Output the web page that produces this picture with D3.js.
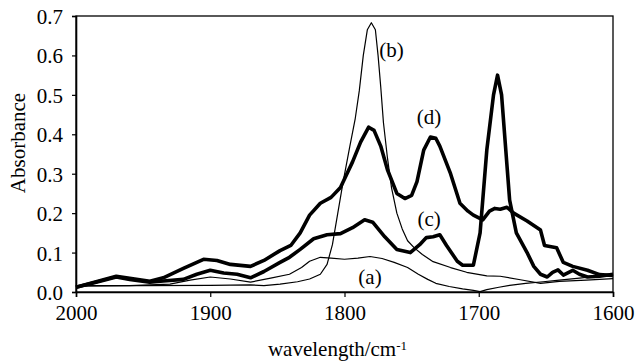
<!DOCTYPE html>
<html>
<head>
<meta charset="utf-8">
<script src="https://cdn.jsdelivr.net/npm/d3@7"></script>
<style>
  body { margin: 0; background: #fff; }
</style>
</head>
<body>
<svg id="chart" width="639" height="363"></svg>
<script>
// IR spectra, absorbance vs wavenumber (cm-1)
var specA = [[2000,0.015],[1960,0.016],[1930,0.02],[1915,0.03],[1900,0.038],[1885,0.033],[1870,0.025],[1855,0.035],[1841,0.045],[1832,0.062],[1826,0.078],[1818,0.088],[1810,0.086],[1800,0.083],[1790,0.086],[1781,0.09],[1772,0.085],[1763,0.075],[1753,0.062],[1745,0.045],[1738,0.032],[1732,0.022],[1722,0.014],[1712,0.008],[1704,0.004],[1699,0.001],[1694,0.006],[1685,0.012],[1677,0.017],[1665,0.022],[1652,0.026],[1640,0.03],[1625,0.035],[1612,0.04],[1600,0.043]];
var specB = [[2000,0.016],[1950,0.016],[1900,0.017],[1870,0.018],[1860,0.016],[1848,0.02],[1835,0.026],[1826,0.033],[1818,0.045],[1813,0.07],[1809,0.12],[1805,0.2],[1801,0.28],[1796,0.37],[1792,0.44],[1789,0.51],[1786,0.6],[1783,0.665],[1780,0.683],[1777,0.665],[1775,0.6],[1773,0.52],[1771,0.43],[1768,0.34],[1765,0.265],[1761,0.2],[1757,0.16],[1753,0.13],[1748,0.112],[1742,0.095],[1734,0.077],[1721,0.062],[1709,0.05],[1694,0.041],[1684,0.04],[1669,0.031],[1654,0.022],[1640,0.027],[1620,0.03],[1600,0.034]];
var specC = [[2000,0.012],[1985,0.025],[1970,0.038],[1960,0.032],[1945,0.025],[1935,0.028],[1920,0.032],[1910,0.045],[1900,0.055],[1890,0.048],[1880,0.045],[1870,0.036],[1860,0.052],[1848,0.075],[1841,0.088],[1833,0.108],[1823,0.135],[1813,0.145],[1803,0.148],[1794,0.163],[1785,0.183],[1779,0.177],[1770,0.14],[1761,0.108],[1751,0.1],[1744,0.12],[1739,0.138],[1734,0.14],[1729,0.145],[1724,0.118],[1716,0.078],[1712,0.068],[1704,0.068],[1699,0.15],[1694,0.36],[1689,0.5],[1686,0.55],[1683,0.5],[1677,0.233],[1672,0.15],[1664,0.1],[1659,0.065],[1654,0.045],[1649,0.038],[1645,0.05],[1641,0.056],[1637,0.043],[1630,0.055],[1625,0.045],[1619,0.038],[1610,0.04],[1600,0.045]];
var specD = [[2000,0.012],[1985,0.026],[1970,0.04],[1960,0.035],[1945,0.027],[1935,0.036],[1920,0.06],[1905,0.083],[1895,0.08],[1885,0.07],[1870,0.065],[1860,0.08],[1848,0.105],[1840,0.118],[1833,0.15],[1826,0.195],[1818,0.225],[1810,0.24],[1803,0.265],[1794,0.33],[1788,0.38],[1782,0.418],[1778,0.41],[1773,0.37],[1768,0.31],[1761,0.25],[1755,0.237],[1750,0.245],[1746,0.28],[1741,0.36],[1736,0.393],[1732,0.39],[1729,0.37],[1721,0.3],[1714,0.225],[1708,0.205],[1704,0.195],[1697,0.183],[1692,0.205],[1688,0.212],[1684,0.21],[1679,0.215],[1674,0.2],[1664,0.18],[1654,0.157],[1651,0.118],[1642,0.112],[1637,0.075],[1630,0.065],[1619,0.055],[1610,0.044],[1600,0.042]];

var xTicks = [2000, 1900, 1800, 1700, 1600];
var yTicks = [0, 0.1, 0.2, 0.3, 0.4, 0.5, 0.6, 0.7];

var curveLabels = [
  { text: "(a)", w: 1781, v: 0.02 },
  { text: "(b)", w: 1765, v: 0.595 },
  { text: "(c)", w: 1737, v: 0.168 },
  { text: "(d)", w: 1737, v: 0.425 }
];

var serif = "Liberation Serif";
var margin = { left: 76, right: 26, top: 16, bottom: 71 };
var svg = d3.select("#chart");
var width = 639 - margin.left - margin.right;
var height = 363 - margin.top - margin.bottom;

var x = d3.scaleLinear().domain([2000, 1600]).range([0, width]);
var y = d3.scaleLinear().domain([0, 0.7]).range([height, 0]);

var g = svg.append("g")
  .attr("transform", "translate(" + margin.left + "," + margin.top + ")");

// frame
g.append("rect")
  .attr("width", width)
  .attr("height", height)
  .attr("fill", "none")
  .attr("stroke", "#000")
  .attr("stroke-width", 1.3);

// axes
var xAxis = g.append("g")
  .attr("transform", "translate(0," + height + ")")
  .call(d3.axisBottom(x).tickValues(xTicks).tickFormat(d3.format("d")).tickSize(5).tickPadding(8));
var yAxis = g.append("g")
  .call(d3.axisLeft(y).tickValues(yTicks).tickFormat(d3.format(".1f")).tickSize(4).tickPadding(9));

[xAxis, yAxis].forEach(function(ax) {
  ax.select(".domain").attr("stroke-width", 1.6);
  ax.selectAll(".tick line").attr("stroke-width", 1.2);
  ax.selectAll(".tick text")
    .attr("fill", "#000")
    .style("font-family", serif)
    .style("font-size", "21px");
});
yAxis.selectAll(".tick text").attr("dy", "0.36em");

// spectra
var line = d3.line()
  .x(function(d) { return x(d[0]); })
  .y(function(d) { return y(d[1]); });

var series = [
  { data: specA, width: 1.2 },
  { data: specB, width: 1.2 },
  { data: specC, width: 3.6 },
  { data: specD, width: 3.6 }
];

g.selectAll(".spectrum")
  .data(series)
  .enter().append("path")
  .attr("class", "spectrum")
  .attr("d", function(d) { return line(d.data); })
  .attr("fill", "none")
  .attr("stroke", "#000")
  .attr("stroke-linejoin", "round")
  .attr("stroke-width", function(d) { return d.width; });

// curve labels
g.selectAll(".curve-label")
  .data(curveLabels)
  .enter().append("text")
  .attr("class", "curve-label")
  .attr("x", function(d) { return x(d.w); })
  .attr("y", function(d) { return y(d.v); })
  .attr("text-anchor", "middle")
  .style("font-family", serif)
  .style("font-size", "21px")
  .text(function(d) { return d.text; });

// axis titles
var xTitle = svg.append("text")
  .attr("x", margin.left + width / 2 - 7)
  .attr("y", 356)
  .attr("text-anchor", "middle")
  .style("font-family", serif)
  .style("font-size", "21px")
  .text("wavelength/cm");
xTitle.append("tspan")
  .attr("dy", "-0.45em")
  .style("font-size", "13px")
  .text("-1");

svg.append("text")
  .attr("transform", "translate(25," + (margin.top + 127) + ") rotate(-90)")
  .attr("text-anchor", "middle")
  .style("font-family", serif)
  .style("font-size", "21px")
  .text("Absorbance");
</script>
</body>
</html>
